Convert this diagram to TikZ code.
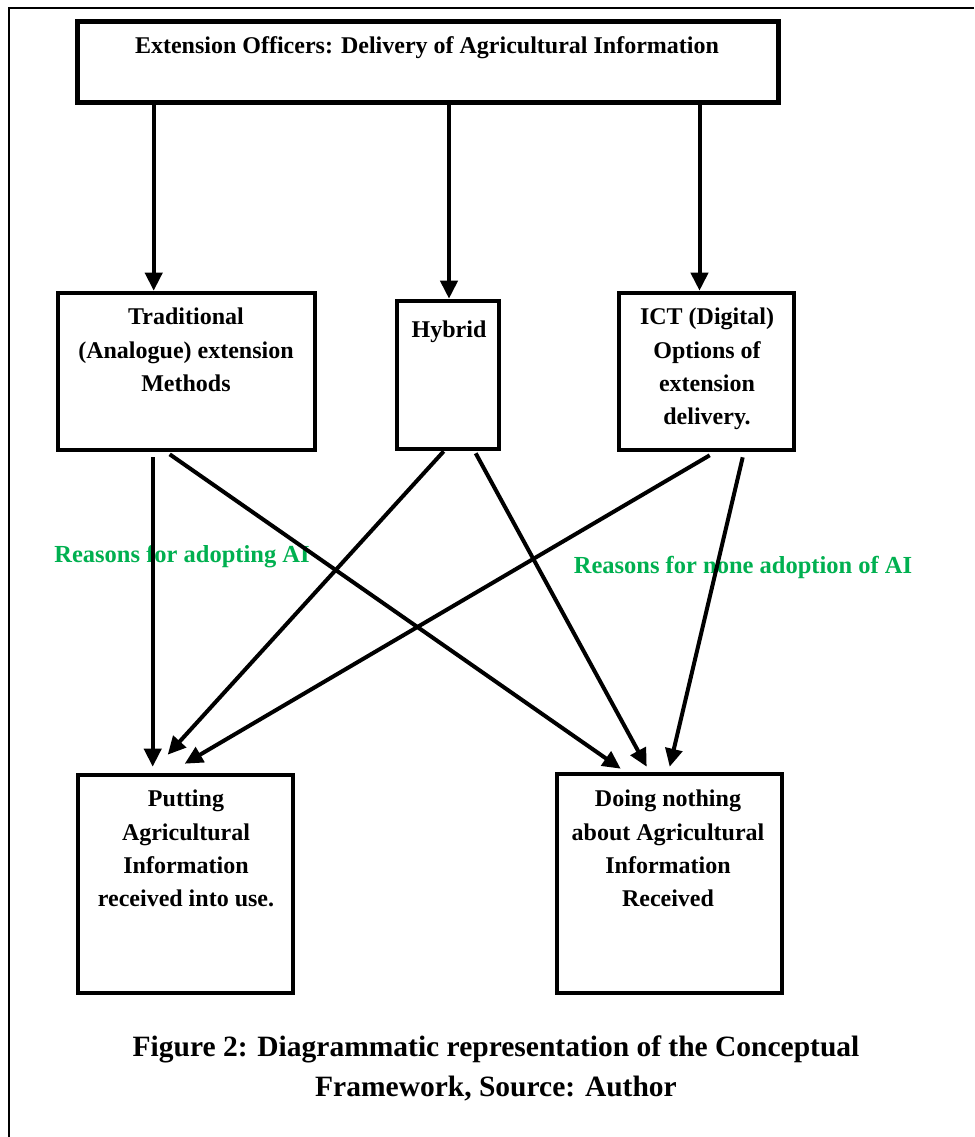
\documentclass[tikz,border=0pt]{standalone}
\usepackage{fontspec}
\setmainfont{Liberation Serif}
\usetikzlibrary{arrows.meta,calc}
\definecolor{wgreen}{RGB}{0,176,80}
\tikzset{
  box/.style={draw, line width=4.6pt, inner sep=0pt},
  txt/.style={font=\bfseries\fontsize{24}{33.3}\selectfont, align=center, inner sep=0pt},
  greenlbl/.style={font=\bfseries\fontsize{24.5}{28}\selectfont, text=wgreen, inner sep=0pt},
  arr/.style={line width=4pt, -{Triangle[length=18pt,width=17pt]}},
  captxt/.style={font=\bfseries\fontsize{29.5}{40}\selectfont, align=center, inner sep=0pt}
}
\begin{document}
\begin{tikzpicture}[x=1pt,y=-1pt]
\useasboundingbox (0,0) rectangle (974,1137);
\fill[white] (0,0) rectangle (974,1137);
% outer frame (top and left only visible)
\draw[line width=2pt] (974,8) -- (9,8) -- (9,1137);

% boxes
\node[box, minimum width=701, minimum height=81] (top) at (428,62) {};
\node[box, minimum width=257, minimum height=157] (trad) at (186.5,371.5) {};
\node[box, minimum width=102, minimum height=148] (hyb) at (448,375) {};
\node[box, minimum width=175, minimum height=157] (ict) at (706.5,371.5) {};
\node[box, minimum width=215, minimum height=218] (put) at (185.5,884) {};
\node[box, minimum width=225, minimum height=219] (doing) at (669.5,883.5) {};

% texts
\node[txt] (topt) at (427,48) {Extension Officers: Delivery of Agricultural Information};
\node[txt, anchor=north] (tradt) at (186,308) {Traditional\\(Analogue) extension\\Methods};
\node[txt, anchor=north] (hybt) at (449,321) {Hybrid};
\node[txt, anchor=north] (ictt) at (707,308) {ICT (Digital)\\Options of\\extension\\delivery.};
\node[txt, anchor=north] (putt) at (186,790) {Putting\\Agricultural\\Information\\received into use.};
\node[txt, anchor=north] (doingt) at (668,790) {Doing nothing\\about Agricultural\\Information\\Received};

% green labels
\node[greenlbl] (r1) at (182,557) {Reasons for adopting AI};
\node[greenlbl] (r2) at (743,567) {Reasons for none adoption of AI};

% arrows from top
\draw[arr] (top.south -| trad.north west) ++(98,0) coordinate (a1) -- (a1 |- trad.north);
\draw[arr] (top.south -| hyb.north) ++(1,0) coordinate (a2) -- (a2 |- hyb.north);
\draw[arr] (top.south -| ict.north) ++(-7,0) coordinate (a3) -- (a3 |- ict.north);

% arrows to bottom
\coordinate (b1) at ($(trad.south west)+(97,5)$);
\draw[arr] (b1) -- ($(b1 |- put.north)+(0,-6)$);
\draw[arr] ($(trad.south west)+(114,2)$) -- ($(doing.north west)+(66,-3)$);
\draw[arr] ($(hyb.south west)+(49,0)$) -- ($(put.north west)+(92,-18)$);
\draw[arr] ($(hyb.south west)+(81,2)$) -- ($(doing.north west)+(92,-5)$);
\draw[arr] ($(ict.south west)+(93,3)$) -- ($(put.north west)+(109,-9)$);
\draw[arr] ($(ict.south west)+(126,5)$) -- ($(doing.north west)+(115,-5)$);

% caption
\node[captxt] (caption) at (496,1068) {Figure 2: Diagrammatic representation of the Conceptual\\Framework, Source: Author};
\end{tikzpicture}
\end{document}
